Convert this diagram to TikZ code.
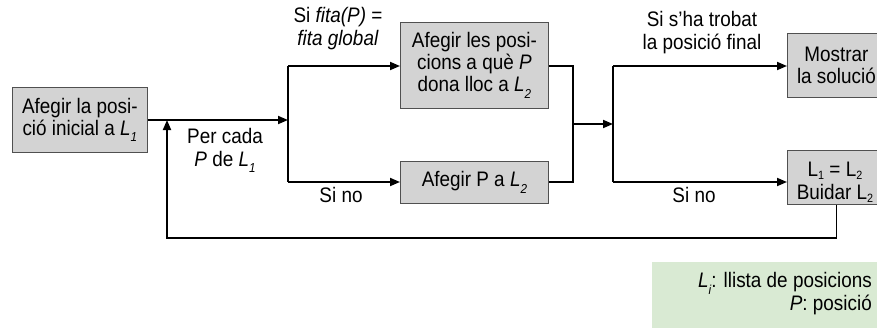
\documentclass[tikz,border=0pt]{standalone}
\usepackage{fontspec}
\setmainfont{Liberation Sans}[FakeStretch=0.9]
\usetikzlibrary{arrows.meta}
\newcommand\sbs[1]{\raisebox{-0.55ex}{\fontsize{13}{13}\selectfont #1}}
\newcommand\sbt[1]{\raisebox{-0.3ex}{\fontsize{12}{12}\selectfont #1}}
\newcommand\Li[1]{\textit{L}\sbs{\textit{#1}}}
\definecolor{boxgray}{RGB}{211,211,211}
\definecolor{boxline}{RGB}{80,80,80}
\definecolor{legendgreen}{RGB}{217,234,211}
\begin{document}
\begin{tikzpicture}[x=1pt,y=-1pt,
  box/.style={draw=boxline, line width=0.8pt, fill=boxgray, align=center, inner sep=0pt, anchor=north west, font=\fontsize{21}{22}\selectfont},
  conn/.style={line width=1.8pt},
  arr/.style={conn, -{Triangle[length=10pt,width=8pt]}},
  lbl/.style={align=center, inner sep=0pt, font=\fontsize{21}{23}\selectfont}]
\path[use as bounding box] (0,0) rectangle (877,327);
\clip (0,0) rectangle (877,327);
% boxes
\node[box, minimum width=135pt, minimum height=65pt] (start) at (12,87) {Afegir la posi-\\ció inicial a \Li{1}};
\node[box, minimum width=148pt, minimum height=86pt] (top) at (400,22) {Afegir les posi-\\cions a què \textit{P}\\dona lloc a \Li{2}};
\node[box, minimum width=148pt, minimum height=42pt] (bot) at (400,161) {Afegir P a \Li{2}};
\node[box, minimum width=98pt, minimum height=64pt] (show) at (787,33) {Mostrar\\la solució};
\node[box, minimum width=98pt, minimum height=54pt] (swap) at (787,150) {};
\node[lbl, anchor=base] (swap1) at (835,176) {L\sbt{1} = L\sbt{2}};
\node[lbl, anchor=base] (swap2) at (835,199) {Buidar L\sbt{2}};
% legend
\node[fill=legendgreen, anchor=north west, minimum width=240pt, minimum height=70pt, inner sep=0pt] (legend) at (652,262) {};
\node[lbl, align=right, anchor=east] (legtext) at (872,294) {\Li{i}: llista de posicions\\\textit{P}: posició};
% coordinates
\coordinate (s1) at (288,120);
\coordinate (s1t) at (288,66);
\coordinate (s1b) at (288,182);
\coordinate (m1t) at (573,66);
\coordinate (m1b) at (573,182);
\coordinate (m1) at (573,124);
\coordinate (s2) at (613,124);
\coordinate (s2t) at (613,66);
\coordinate (s2b) at (613,182);
\coordinate (r2) at (167,238);
\coordinate (r3) at (167,120);
% connectors
\draw[arr] (start.east |- s1) -- (s1);
\draw[conn] (s1t) -- (s1b);
\draw[arr] (s1t) -- (top.west |- s1t);
\draw[arr] (s1b) -- (bot.west |- s1b);
\draw[conn] (top.east |- m1t) -- (m1t) -- (m1b) -- (bot.east |- m1b);
\draw[arr] (m1) -- (s2);
\draw[conn] (s2t) -- (s2b);
\draw[arr] (s2t) -- (show.west |- s2t);
\draw[arr] (s2b) -- (swap.west |- s2b);
\draw[arr] (swap.south) |- (r2) -- (r3);
% labels
\node[lbl] (l1) at (338,29) {Si \textit{fita(P)} =\\\textit{fita global}};
\node[lbl] (l2) at (225,150) {Per cada\\\textit{P} de \Li{1}};
\node[lbl] (l3) at (341,195) {Si no};
\node[lbl] (l4) at (702,33) {Si s’ha trobat\\la posició final};
\node[lbl] (l5) at (694,195) {Si no};
\end{tikzpicture}
\end{document}
